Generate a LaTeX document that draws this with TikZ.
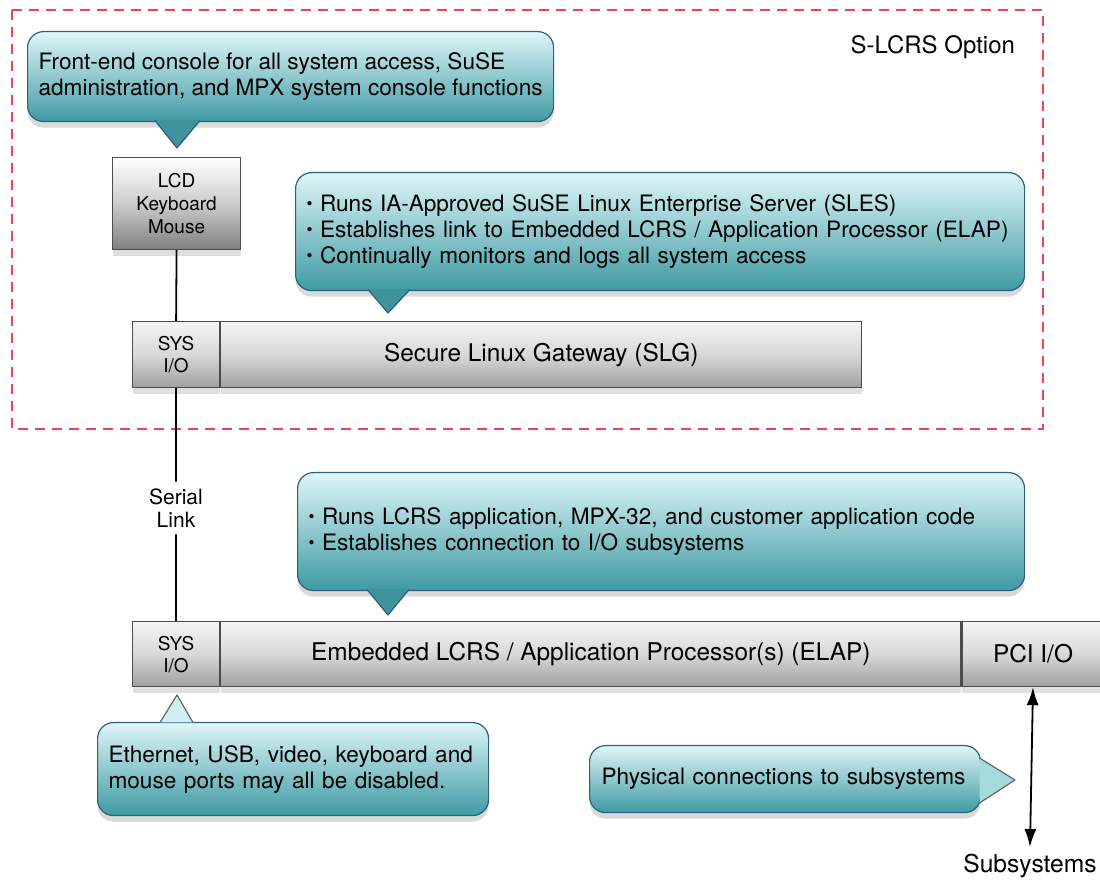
\documentclass[tikz,border=0pt]{standalone}
\usepackage{fontspec}
\setmainfont{TeX Gyre Heros}
\usetikzlibrary{shadows,arrows.meta}

\definecolor{bubtop}{HTML}{DFF6F8}
\definecolor{bubbot}{HTML}{3E9AA3}
\definecolor{bubline}{HTML}{2E5F7E}
\definecolor{bubtip}{HTML}{3F939A}
\definecolor{bubtiplt}{HTML}{CFEFF1}
\definecolor{bubtipmd}{HTML}{A6DBDE}
\definecolor{bartop}{HTML}{F5F5F5}
\definecolor{barmid}{HTML}{D8D8D8}
\definecolor{barbot}{HTML}{A0A0A0}
\definecolor{optred}{HTML}{E8474C}

\newcommand{\blt}{\raisebox{0.8pt}{\scalebox{0.75}{\textbullet}}\ }

\tikzset{
  bubble/.style={draw=bubline, line width=0.6pt, rounded corners=8pt,
    top color=bubtop, bottom color=bubbot, anchor=north west, align=left,
    inner xsep=5.5pt, inner ysep=0pt, font=\fontsize{11.3}{13}\selectfont,
    drop shadow={opacity=0.3, shadow xshift=0pt, shadow yshift=-3pt}},
  bubtri/.style={draw=bubline, line width=0.6pt, fill=bubtip, line join=round},
  bubtrilt/.style={draw=black!60, line width=0.6pt, fill=bubtiplt, line join=round},
  bar/.style={draw=black!70, line width=0.6pt, top color=bartop, bottom color=barbot,
    middle color=barmid, anchor=north west, inner sep=0pt, align=center,
    font=\fontsize{12.2}{14}\selectfont,
    drop shadow={opacity=0.25, shadow xshift=0pt, shadow yshift=-3pt}},
  sysio/.style={bar, minimum width=43.5pt, font=\fontsize{9.5}{11}\selectfont},
  lcdbox/.style={bar, top color=white, bottom color=black!50, middle color=black!20,
    minimum width=64pt, minimum height=46pt, font=\fontsize{9.5}{11.5}\selectfont},
  wire/.style={black, line width=0.9pt},
}

\begin{document}
\begin{tikzpicture}[x=0.5pt,y=-0.5pt]
  \useasboundingbox (0,0) rectangle (1100,887);

  % S-LCRS option frame
  \draw[optred, line width=1pt, dash pattern=on 5pt off 3.5pt] (12,10) rectangle (1043,429);
  \node[anchor=east, font=\fontsize{12}{14}\selectfont] (opt) at (1022,47) {S-LCRS Option};

  % console
  \node[bubble, minimum height=45pt] (consnote) at (27,31)
    {Front-end console for all system access, SuSE\\administration, and MPX system console functions};
  \filldraw[bubtri] (155,120.5) -- (177,148) -- (200,120.5);
  \node[lcdbox] (lcd) at (112,157) {LCD\\Keyboard\\Mouse};

  % gateway
  \node[bubble, text width=353.5pt, minimum height=59pt] (slgnote) at (295,172)
    {\blt Runs IA-Approved SuSE Linux Enterprise Server (SLES)\\
     \blt Establishes link to Embedded LCRS / Application Processor (ELAP)\\
     \blt Continually monitors and logs all system access};
  \filldraw[bubtri] (368,289.5) -- (388,313) -- (410,289.5);
  \node[sysio, minimum height=33pt] (slgsys) at (132,321) {SYS\\I/O};
  \node[bar, minimum width=320.5pt, minimum height=33pt] (slg) at (slgsys.north east) {Secure Linux Gateway (SLG)};
  \draw[wire] (lcd.south) -- (slgsys.north);

  % ELAP
  \node[bubble, text width=352.5pt, minimum height=59pt] (elapnote) at (297,472)
    {\blt Runs LCRS application, MPX-32, and customer application code\\
     \blt Establishes connection to I/O subsystems};
  \filldraw[bubtri] (367,589.5) -- (388,615) -- (409,589.5);
  \node[sysio, minimum height=32.5pt] (elapsys) at (132,621) {SYS\\I/O};
  \node[bar, minimum width=370pt, minimum height=32.5pt] (elap) at (elapsys.north east)
    {Embedded LCRS / Application Processor(s) (ELAP)};
  \node[bar, minimum width=71pt, minimum height=32.5pt] (pci) at (elap.north east) {PCI I/O};

  % serial link
  \node[font=\fontsize{10.5}{11.5}\selectfont, align=center] (serial) at (176,508) {Serial\\Link};
  \draw[wire] (slgsys.south) -- (serial.north);
  \draw[wire] (serial.south) -- (elapsys.north);

  % ports and subsystems
  \node[bubble, text width=184.5pt, minimum height=46.5pt] (portnote) at (97,722)
    {Ethernet, USB, video, keyboard and\\mouse ports may all be disabled.};
  \filldraw[bubtrilt] (160,722.5) -- (177,695) -- (193,722.5);
  \node[bubble, text width=183.5pt, inner xsep=6pt, minimum height=33.5pt] (physnote) at (589,745)
    {Physical connections to subsystems};
  \filldraw[bubtrilt, fill=bubtipmd] (979.5,758) -- (1015,780) -- (979.5,803);
  \node[font=\fontsize{12.3}{14}\selectfont] (subsys) at (1030,866) {Subsystems};
  \draw[wire, {Latex[length=9pt,width=6pt]}-{Latex[length=9pt,width=6pt]}] (pci.south) -- (subsys.north);
\end{tikzpicture}
\end{document}
